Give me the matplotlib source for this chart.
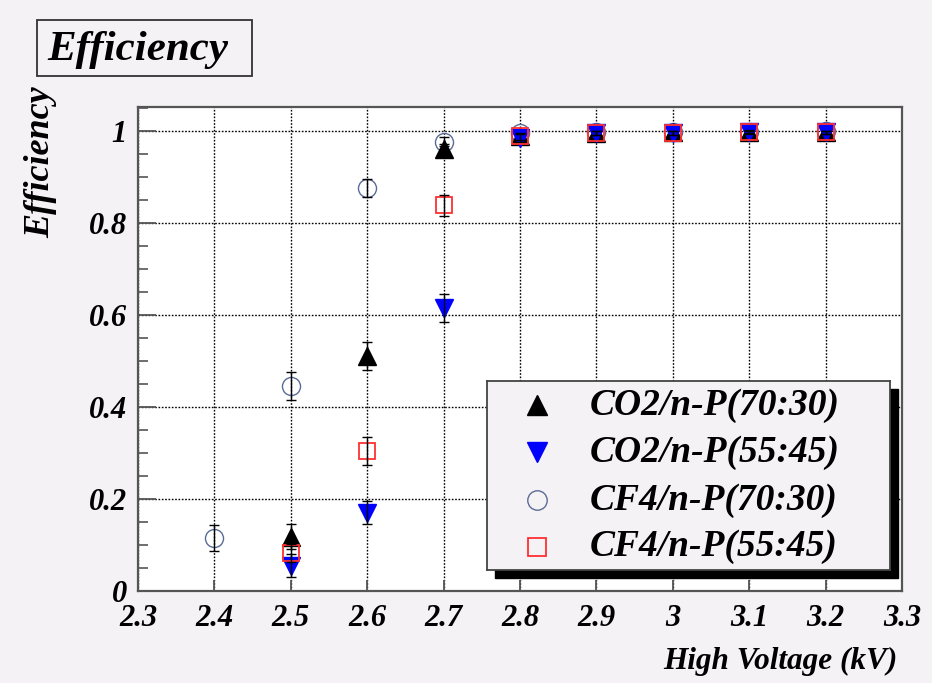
import matplotlib
matplotlib.use("Agg")
import matplotlib.pyplot as plt
from matplotlib.patches import Rectangle
from matplotlib.ticker import MultipleLocator

# ---------------- data ----------------
series_names = ["CO2/n-P(70:30)", "CO2/n-P(55:45)", "CF4/n-P(70:30)", "CF4/n-P(55:45)"]

x_co2_7030 = [2.5, 2.6, 2.7, 2.8, 2.9, 3.0, 3.1, 3.2]
y_co2_7030 = [0.118, 0.511, 0.960, 0.990, 0.995, 0.997, 0.998, 0.998]
e_co2_7030 = [0.027, 0.030, 0.012, 0.006, 0.004, 0.003, 0.003, 0.003]

x_co2_5545 = [2.5, 2.6, 2.7, 2.8, 2.9, 3.0, 3.1, 3.2]
y_co2_5545 = [0.055, 0.170, 0.615, 0.985, 0.995, 0.995, 0.997, 0.997]
e_co2_5545 = [0.025, 0.025, 0.030, 0.008, 0.004, 0.004, 0.003, 0.003]

x_cf4_7030 = [2.4, 2.5, 2.6, 2.7, 2.8, 2.9, 3.0, 3.1, 3.2]
y_cf4_7030 = [0.115, 0.446, 0.876, 0.977, 0.995, 0.997, 0.998, 0.998, 0.999]
e_cf4_7030 = [0.028, 0.030, 0.020, 0.010, 0.005, 0.004, 0.003, 0.003, 0.003]

x_cf4_5545 = [2.5, 2.6, 2.7, 2.8, 2.9, 3.0, 3.1, 3.2]
y_cf4_5545 = [0.083, 0.304, 0.838, 0.988, 0.996, 0.996, 0.998, 0.997]
e_cf4_5545 = [0.020, 0.030, 0.022, 0.008, 0.004, 0.004, 0.003, 0.003]

x_ticks = [2.3, 2.4, 2.5, 2.6, 2.7, 2.8, 2.9, 3.0, 3.1, 3.2, 3.3]
x_ticklabels = ["2.3", "2.4", "2.5", "2.6", "2.7", "2.8", "2.9", "3", "3.1", "3.2", "3.3"]
y_ticks = [0, 0.2, 0.4, 0.6, 0.8, 1.0]
y_ticklabels = ["0", "0.2", "0.4", "0.6", "0.8", "1"]

# ---------------- style ----------------
W, H = 932, 683
BG = "#f5f2f5"
FRAME = "#555555"
FONT = dict(family="Liberation Serif", weight="bold", style="italic")

fig = plt.figure(figsize=(W / 100, H / 100), dpi=100, facecolor=BG)

def fx(px):
    return px / W

def fy(py):
    return 1 - py / H

ax_l, ax_r, ax_t, ax_b = 138, 902, 107, 591
ax = fig.add_axes([fx(ax_l), fy(ax_b), fx(ax_r - ax_l), (ax_b - ax_t) / H])
ax.set_facecolor("white")
ax.set_xlim(2.3, 3.3)
ax.set_ylim(0, 1.052)

for s in ax.spines.values():
    s.set_color(FRAME)
    s.set_linewidth(1.6)

ax.set_xticks(x_ticks)
ax.set_xticklabels(x_ticklabels)
ax.set_yticks(y_ticks)
ax.set_yticklabels(y_ticklabels)
ax.yaxis.set_minor_locator(MultipleLocator(0.05))
ax.tick_params(axis="both", which="major", direction="in", color=FRAME, width=1.3)
ax.tick_params(axis="x", which="major", length=8, pad=9.5)
ax.tick_params(axis="y", which="major", length=13, pad=8)
ax.tick_params(axis="y", which="minor", direction="in", length=7, width=1.2, color=FRAME)
for lab in ax.get_xticklabels() + ax.get_yticklabels():
    lab.set_fontfamily("Liberation Serif")
    lab.set_fontweight("bold")
    lab.set_fontstyle("italic")
    lab.set_fontsize(22)

ax.grid(True, which="major", color="black", linestyle=(0, (1.2, 1.2)), linewidth=1.0)
ax.set_axisbelow(True)

styles = [
    dict(marker="^", mfc="black", mec="black", ms=13),
    dict(marker="v", mfc="#0000ff", mec="#0000ff", ms=13),
    dict(marker="o", mfc="none", mec="#5a6c96", ms=13, mew=1.0),
    dict(marker="s", mfc="none", mec="#ff3030", ms=12, mew=1.3),
]
data = [
    (x_co2_7030, y_co2_7030, e_co2_7030),
    (x_co2_5545, y_co2_5545, e_co2_5545),
    (x_cf4_7030, y_cf4_7030, e_cf4_7030),
    (x_cf4_5545, y_cf4_5545, e_cf4_5545),
]
draw_order = [2, 0, 1, 3]
for k, i in enumerate(draw_order):
    xs, ys, es = data[i]
    st = styles[i]
    ax.plot(xs, ys, linestyle="none", marker=st["marker"], mfc=st["mfc"],
            mec=st["mec"], ms=st["ms"], mew=st.get("mew", 1.0), zorder=3 + k)
    ax.errorbar(xs, ys, yerr=es, fmt="none", ecolor="black", elinewidth=1.0,
                capsize=3.5, capthick=1.0, zorder=3 + k + 0.5)

# axis labels
fig.text(fx(897), fy(661), "High Voltage (kV)", ha="right", va="center",
         fontsize=22.5, **FONT)
fig.text(fx(41), fy(86), "Efficiency", ha="center", va="top", rotation=90,
         fontsize=26, **FONT)

# title box
fig.patches.append(Rectangle((fx(37), fy(76)), fx(252 - 37), (76 - 20) / H,
                             transform=fig.transFigure, facecolor=BG,
                             edgecolor="#333333", linewidth=1.3))
fig.text(fx(138), fy(50), "Efficiency", ha="center", va="center",
         fontsize=31, **FONT)

# legend with shadow
lx0, lx1, ly0, ly1 = 487, 890, 381, 570
sh = 8
fig.patches.append(Rectangle((fx(lx0 + sh), fy(ly1 + sh)), fx(lx1 - lx0), (ly1 - ly0) / H,
                             transform=fig.transFigure, facecolor="black",
                             edgecolor="black", zorder=5))
lax = fig.add_axes([fx(lx0), fy(ly1), fx(lx1 - lx0), (ly1 - ly0) / H], zorder=6)
lax.set_facecolor(BG)
lax.set_xlim(0, 1)
lax.set_ylim(0, 1)
lax.set_xticks([])
lax.set_yticks([])
for s in lax.spines.values():
    s.set_color("#444444")
    s.set_linewidth(1.3)
rows = [0.873, 0.624, 0.370, 0.122]
for i, name in enumerate(series_names):
    st = styles[i]
    lax.plot([0.124], [rows[i]], linestyle="none", marker=st["marker"], mfc=st["mfc"],
             mec=st["mec"], ms=st["ms"] + 1, mew=st.get("mew", 1.0))
    lax.text(0.256, rows[i], name, ha="left", va="center", fontsize=27, **FONT)

fig.savefig("out.png", dpi=100, facecolor=BG)
